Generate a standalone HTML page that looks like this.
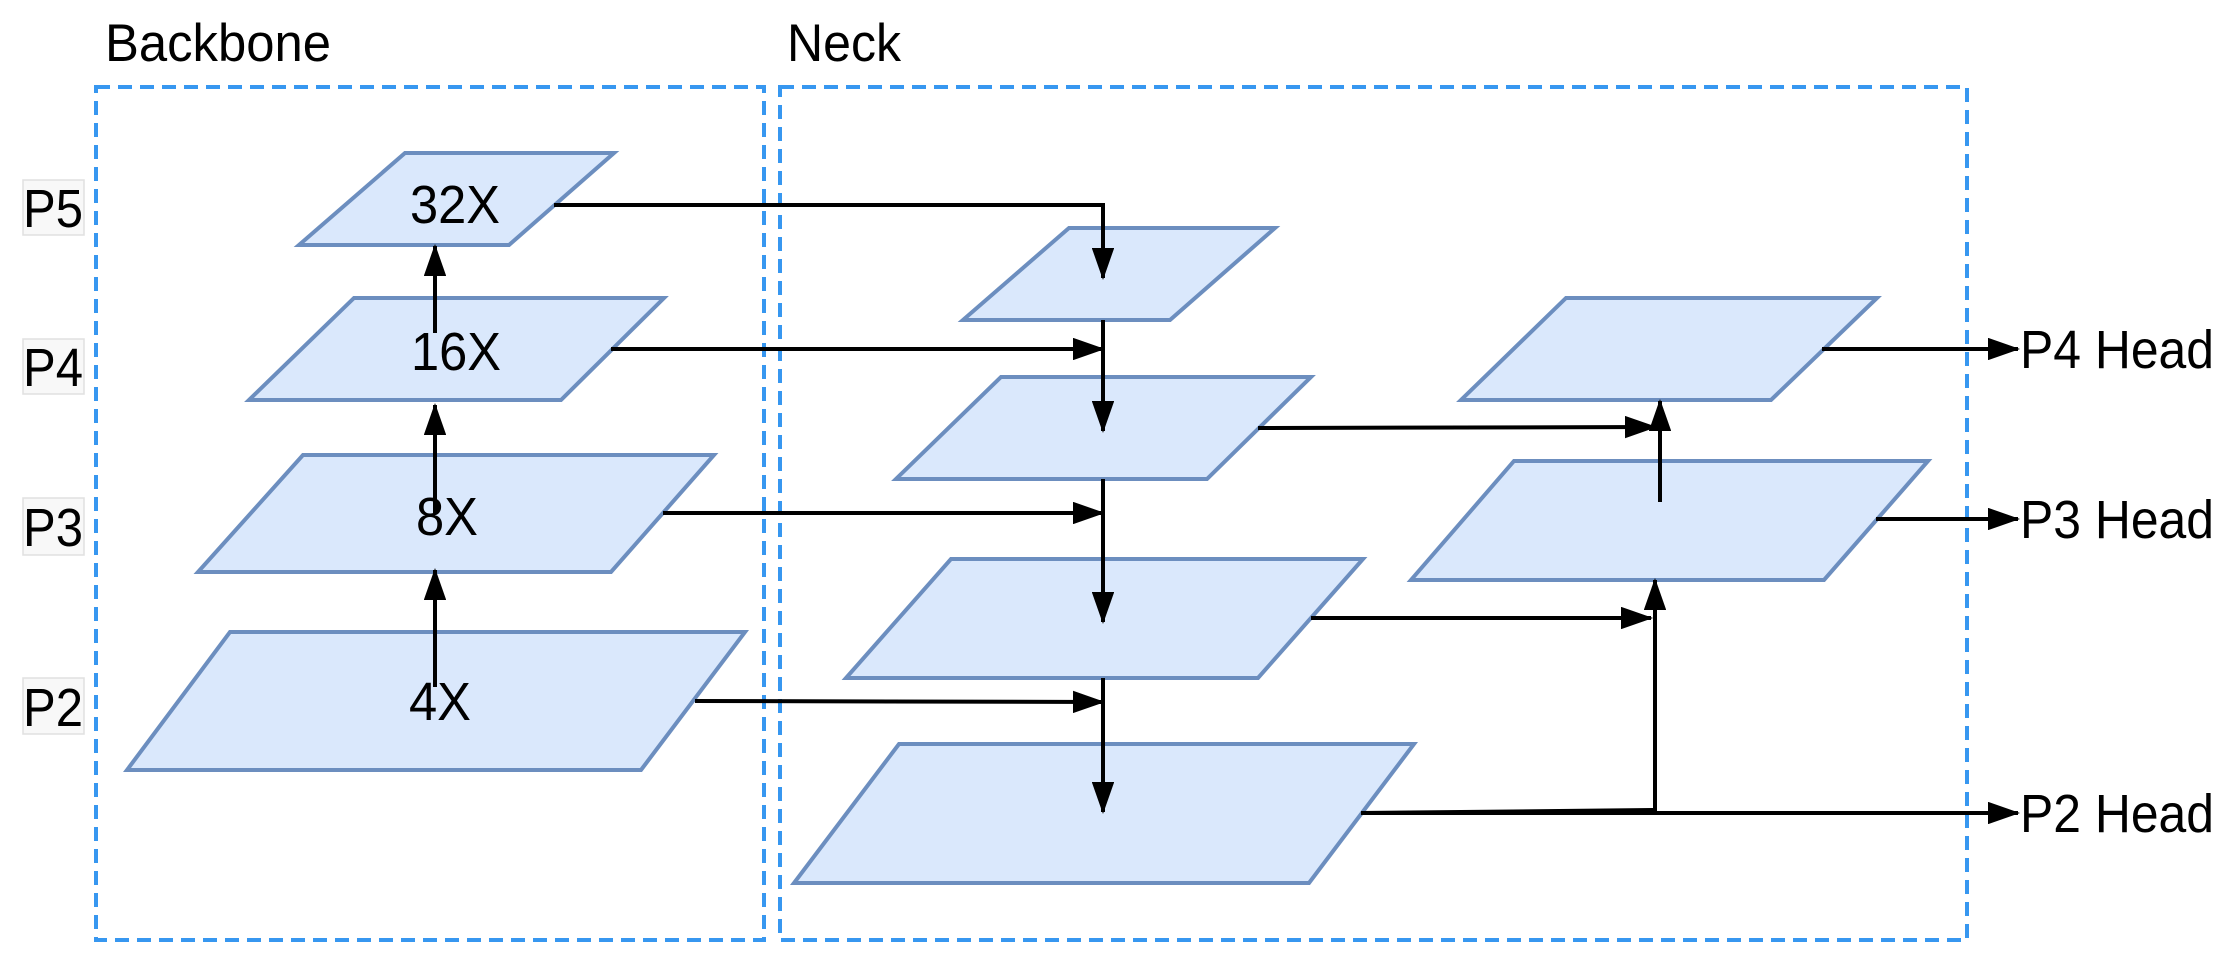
<!DOCTYPE html>
<html><head><meta charset="utf-8"><style>html,body{margin:0;padding:0;background:#fff}svg{display:block}</style></head>
<body>
<svg width="2234" height="966" viewBox="0 0 2234 966" xmlns="http://www.w3.org/2000/svg" font-family="Liberation Sans, Arial, sans-serif">
<defs>
<marker id="a" markerWidth="8" markerHeight="5.6" refX="7.5" refY="2.8" orient="auto" markerUnits="strokeWidth"><path d="M0,0 L8,2.8 L0,5.6 z" fill="#000"/></marker>
</defs>
<g fill="none" stroke="#3797f0" stroke-width="4" stroke-dasharray="14,8">
<rect x="96" y="87" width="668" height="853"/>
<rect x="780" y="87" width="1187" height="853"/>
</g>
<text x="105" y="61" font-size="53" textLength="226" lengthAdjust="spacingAndGlyphs">Backbone</text>
<text x="787" y="61" font-size="53" textLength="114" lengthAdjust="spacingAndGlyphs">Neck</text>
<g fill="#f8f8f8" stroke="#e0e0e0" stroke-width="1.5">
<rect x="23" y="180" width="61" height="55"/>
<rect x="23" y="339" width="61" height="55"/>
<rect x="23" y="498" width="61" height="57"/>
<rect x="23" y="678" width="61" height="56"/>
</g>
<g font-size="54">
<text x="23" y="227" textLength="60" lengthAdjust="spacingAndGlyphs">P5</text>
<text x="23" y="386" textLength="60" lengthAdjust="spacingAndGlyphs">P4</text>
<text x="23" y="546" textLength="60" lengthAdjust="spacingAndGlyphs">P3</text>
<text x="23" y="726" textLength="60" lengthAdjust="spacingAndGlyphs">P2</text>
</g>
<g fill="#dae8fc" stroke="#6c8ebf" stroke-width="4">
<polygon points="405,153 614,153 509,245 299,245"/>
<polygon points="354,298 664,298 561,400 249,400"/>
<polygon points="303,455 714,455 611,572 198,572"/>
<polygon points="230,632 745,632 641,770 127,770"/>
<polygon points="1069,228 1275,228 1170,320 963,320"/>
<polygon points="1001,377 1311,377 1207,479 896,479"/>
<polygon points="951,559 1363,559 1258,678 846,678"/>
<polygon points="899,744 1414,744 1309,883 794,883"/>
<polygon points="1566,298 1877,298 1771,400 1461,400"/>
<polygon points="1514,461 1928,461 1824,580 1411,580"/>
</g>
<g font-size="54" text-anchor="middle">
<text x="455" y="223" textLength="90" lengthAdjust="spacingAndGlyphs">32X</text>
<text x="456" y="370" textLength="90" lengthAdjust="spacingAndGlyphs">16X</text>
<text x="447" y="535" textLength="62" lengthAdjust="spacingAndGlyphs">8X</text>
<text x="440" y="720" textLength="62" lengthAdjust="spacingAndGlyphs">4X</text>
</g>
<g stroke="#000" stroke-width="4" fill="none" marker-end="url(#a)">
<line x1="435" y1="687" x2="435" y2="570"/>
<line x1="435" y1="513" x2="435" y2="405"/>
<line x1="435" y1="333" x2="435" y2="246"/>
<polyline points="554,205 1103,205 1103,278"/>
<line x1="611" y1="349" x2="1103" y2="349"/>
<line x1="663" y1="513" x2="1103" y2="513"/>
<line x1="695" y1="701" x2="1103" y2="702"/>
<line x1="1103" y1="320" x2="1103" y2="431"/>
<line x1="1103" y1="479" x2="1103" y2="622"/>
<line x1="1103" y1="678" x2="1103" y2="812"/>
<line x1="1258" y1="428" x2="1655" y2="427"/>
<line x1="1660" y1="502" x2="1660" y2="401"/>
<line x1="1311" y1="618" x2="1651" y2="618"/>
<polyline points="1361,813 1655,810 1655,580" />
<line x1="1361" y1="813" x2="2018" y2="813"/>
<line x1="1822" y1="349" x2="2018" y2="349"/>
<line x1="1876" y1="519" x2="2018" y2="519"/>
</g>
<g font-size="54">
<text x="2020" y="368" textLength="194" lengthAdjust="spacingAndGlyphs">P4 Head</text>
<text x="2020" y="538" textLength="194" lengthAdjust="spacingAndGlyphs">P3 Head</text>
<text x="2020" y="832" textLength="194" lengthAdjust="spacingAndGlyphs">P2 Head</text>
</g>
</svg>
</body></html>
